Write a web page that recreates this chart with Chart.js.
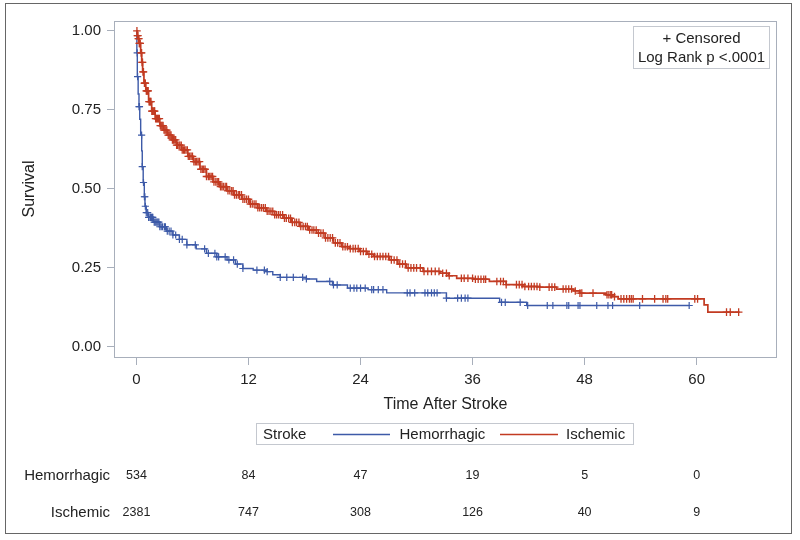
<!DOCTYPE html>
<html><head><meta charset="utf-8">
<script src="https://cdn.jsdelivr.net/npm/chart.js@4"></script>
<style>html,body{margin:0;padding:0;background:#fff;}#wrap{width:800px;height:540px;}</style>
</head><body><div id="wrap"><canvas id="c" width="800" height="540"></canvas></div>
<script>
// ---- data ----
const hemTime = [0,0.04,0.09,0.18,0.27,0.35,0.45,0.56,0.62,0.72,0.84,0.91,1.05,1.26,1.8,2.5,3.2,3.9,4.6,5.4,6.4,7.5,8.6,9.7,10.6,11.4,12.5,13.9,14.6,15.4,18.2,19.3,21.0,22.6,24.8,26.8,33.2,38.9,41.8,59.2];
const hemSurv = [1.0,0.93,0.855,0.80,0.76,0.72,0.67,0.62,0.57,0.52,0.475,0.445,0.425,0.41,0.395,0.38,0.366,0.354,0.34,0.323,0.31,0.296,0.285,0.275,0.262,0.248,0.243,0.238,0.228,0.22,0.215,0.207,0.196,0.186,0.181,0.171,0.154,0.141,0.131,0.131];
const isTime = [0,0.1,0.2,0.3,0.45,0.56,0.66,0.8,1.0,1.3,1.63,2.0,2.5,2.9,3.3,3.8,4.3,4.84,5.5,6.1,6.8,7.5,8.2,8.9,9.7,10.4,11.3,12.15,13.0,13.9,14.8,15.7,16.6,17.5,18.4,19.3,20.2,21.1,22.0,22.8,23.9,24.7,25.4,27.1,28.0,28.9,30.7,32.5,33.4,34.3,36.1,37.8,39.6,41.4,43.2,45.0,46.8,47.5,50.3,51.0,51.6,60.8,61.2,64.6];
const isSurv = [1.0,0.985,0.975,0.96,0.93,0.90,0.87,0.834,0.81,0.776,0.746,0.722,0.70,0.686,0.67,0.655,0.638,0.623,0.603,0.586,0.562,0.539,0.522,0.507,0.494,0.481,0.467,0.452,0.44,0.429,0.418,0.407,0.394,0.381,0.37,0.36,0.345,0.329,0.317,0.311,0.302,0.293,0.286,0.275,0.262,0.25,0.239,0.233,0.225,0.217,0.214,0.207,0.197,0.191,0.189,0.183,0.177,0.170,0.165,0.159,0.152,0.133,0.11,0.11];
const hemCens = [0.08,0.12,0.28,0.32,0.55,0.62,0.75,0.85,0.9,0.95,1.05,1.2,1.3,1.45,1.5,1.6,1.7,1.75,1.9,2.0,2.1,2.2,2.3,2.4,2.5,2.65,2.8,3.0,3.1,3.3,3.5,3.7,3.9,4.2,4.6,4.9,5.4,6.3,7.3,7.7,8.4,8.6,8.8,9.5,9.9,10.4,10.8,11.4,12.9,13.7,14.0,15.4,16.1,16.8,17.8,18.2,20.7,21.1,21.5,22.9,23.3,23.6,24.0,24.5,25.2,25.4,25.9,26.4,29.0,29.3,29.8,30.9,31.2,31.6,31.9,32.2,33.2,34.4,34.8,35.2,35.5,39.1,39.5,41.1,41.9,44.0,44.6,46.1,46.3,47.3,47.5,49.3,50.5,51.0,53.9,59.2];
const isCens = [0.05,0.1,0.15,0.2,0.25,0.3,0.35,0.4,0.5,0.55,0.6,0.65,0.7,0.75,0.85,0.9,0.95,1.05,1.1,1.2,1.25,1.35,1.4,1.5,1.55,1.65,1.7,1.8,1.9,1.95,2.05,2.15,2.25,2.35,2.45,2.55,2.65,2.75,2.85,2.95,3.05,3.15,3.25,3.4,3.5,3.6,3.7,3.85,3.95,4.05,4.2,4.3,4.4,4.55,4.65,4.8,4.9,5.05,5.15,5.3,5.45,5.55,5.7,5.85,6.0,6.15,6.3,6.45,6.6,6.75,6.9,7.05,7.2,7.35,7.5,7.7,7.85,8.0,8.15,8.3,8.5,8.65,8.8,9.0,9.15,9.3,9.5,9.65,9.8,10.0,10.2,10.35,10.5,10.7,10.9,11.05,11.25,11.4,11.6,11.8,12.0,12.2,12.4,12.6,12.8,13.0,13.2,13.4,13.6,13.8,14.0,14.2,14.4,14.6,14.8,15.0,15.2,15.4,15.65,15.85,16.05,16.3,16.5,16.7,16.95,17.15,17.4,17.6,17.85,18.1,18.3,18.55,18.8,19.0,19.25,19.5,19.75,20.0,20.25,20.5,20.75,21.0,21.3,21.55,21.8,22.1,22.35,22.6,22.9,23.2,23.45,23.75,24.0,24.3,24.6,24.9,25.2,25.5,25.8,26.1,26.4,26.7,27.0,27.3,27.6,27.9,28.2,28.5,28.8,29.1,29.4,29.7,30.0,30.4,30.8,31.2,31.6,32.0,32.4,32.8,33.2,33.5,34.8,35.1,35.5,36.0,36.3,36.6,36.9,37.2,37.4,38.6,39.0,39.3,39.6,40.7,41.0,41.3,41.6,42.0,42.3,42.6,42.9,43.2,44.2,44.5,44.8,45.7,46.0,46.3,46.6,47.0,47.5,47.7,48.9,50.4,50.6,50.8,50.9,51.2,51.9,52.2,52.5,52.8,53.0,53.2,54.2,55.5,56.4,56.7,56.9,59.8,60.1,63.2,63.6,64.5];
const xTicks = [0,12,24,36,48,60];
const yTicks = [0,0.25,0.5,0.75,1];
const groups = ['Hemorrhagic','Ischemic'];
const riskHem = [534,84,47,19,5,0];
const riskIs = [2381,747,308,126,40,9];

// ---- build ----
const FAM = "'Liberation Sans', Arial, sans-serif";
const BLUE = '#3d5aa8', RED = '#c23b22', AXC = '#a8afbb', TXT = '#222';
function survAt(times, surv, t){ let v = surv[0]; for (let i=0;i<times.length;i++){ if (times[i] <= t) v = surv[i]; } return v; }
const pts = (ts, ss) => ts.map((t,i)=>({x:t, y:ss[i]}));
const cpts = (cs, ts, ss) => cs.map(t=>({x:t, y:survAt(ts, ss, t)}));

const deco = {
  id:'deco',
  beforeDraw(chart){ const c=chart.ctx; c.save(); c.fillStyle='#fff'; c.fillRect(0,0,chart.width,chart.height); c.restore(); },
  afterDraw(chart){
    const c = chart.ctx, a = chart.chartArea, x = chart.scales.x;
    c.save();
    c.strokeStyle = AXC; c.lineWidth = 1;
    c.strokeRect(Math.round(a.left)-0.5, Math.round(a.top)+0.5, Math.round(a.right-a.left)+1, Math.round(a.bottom-a.top));
    c.strokeStyle = '#666';
    c.strokeRect(5.5, 3.5, 786, 530);
    c.strokeStyle = '#c4c8cf';
    c.strokeRect(633.5, 26.5, 136, 42);
    c.fillStyle = TXT; c.font = '15px ' + FAM; c.textAlign = 'center'; c.textBaseline = 'middle';
    c.fillText('+ Censored', 701.5, 38.5);
    c.fillText('Log Rank p <.0001', 701.5, 57.5);
    c.strokeStyle = '#c4c8cf';
    c.strokeRect(256.5, 423.5, 377, 21);
    c.textAlign = 'left';
    c.fillText('Stroke', 263, 434.5);
    c.lineWidth = 1.3;
    c.strokeStyle = BLUE; c.beginPath(); c.moveTo(333, 434.5); c.lineTo(390, 434.5); c.stroke();
    c.fillText(groups[0], 399.5, 434.5);
    c.strokeStyle = RED; c.beginPath(); c.moveTo(500, 434.5); c.lineTo(558, 434.5); c.stroke();
    c.fillText(groups[1], 566, 434.5);
    c.textAlign = 'right';
    c.fillText(groups[0], 110, 475.5);
    c.fillText(groups[1], 110, 512.5);
    c.textAlign = 'center'; c.font = '12.5px ' + FAM;
    xTicks.forEach((t,i)=>{
      const px = x.getPixelForValue(t);
      c.fillText(String(riskHem[i]), px, 475.5);
      c.fillText(String(riskIs[i]), px, 512.5);
    });
    c.restore();
  }
};

new Chart(document.getElementById('c'), {
  type:'scatter',
  data:{ datasets:[
    { label:groups[0], data:pts(hemTime,hemSurv), showLine:true, stepped:true, borderColor:BLUE, borderWidth:1.4, pointRadius:0, order:2 },
    { label:groups[0]+' censored', data:cpts(hemCens,hemTime,hemSurv), showLine:false, pointStyle:'cross', pointRadius:3.6, borderColor:BLUE, borderWidth:1.2, order:2 },
    { label:groups[1], data:pts(isTime,isSurv), showLine:true, stepped:true, borderColor:RED, borderWidth:1.7, pointRadius:0, order:1 },
    { label:groups[1]+' censored', data:cpts(isCens,isTime,isSurv), showLine:false, pointStyle:'cross', pointRadius:3.8, borderColor:RED, borderWidth:1.3, order:1 }
  ]},
  options:{
    responsive:false, animation:false, events:[],
    layout:{ padding:{ left:0, right:24, top:21, bottom:125.4 } },
    plugins:{ legend:{display:false}, tooltip:{enabled:false} },
    scales:{
      x:{ type:'linear', min:-2.3, max:68.5,
        afterBuildTicks:s=>{ s.ticks = xTicks.map(v=>({value:v})); },
        afterFit:s=>{ s.height = 57.6; },
        ticks:{ font:{size:15,family:FAM}, color:TXT, padding:6, maxRotation:0 },
        grid:{ drawOnChartArea:false, tickLength:8, color:AXC },
        border:{ display:false },
        title:{ display:true, text:'Time After Stroke', font:{size:16,family:FAM}, color:TXT, padding:0 } },
      y:{ min:-0.032, max:1.031,
        afterBuildTicks:s=>{ s.ticks = yTicks.map(v=>({value:v})); },
        afterFit:s=>{ s.width = 115; },
        ticks:{ font:{size:15,family:FAM}, color:TXT, padding:6, callback:v=>Number(v).toFixed(2) },
        grid:{ drawOnChartArea:false, tickLength:8, color:AXC },
        border:{ display:false },
        title:{ display:true, text:'Survival', font:{size:16,family:FAM}, color:TXT, padding:{top:20,bottom:0} } }
    }
  },
  plugins:[deco]
});
</script></body></html>
